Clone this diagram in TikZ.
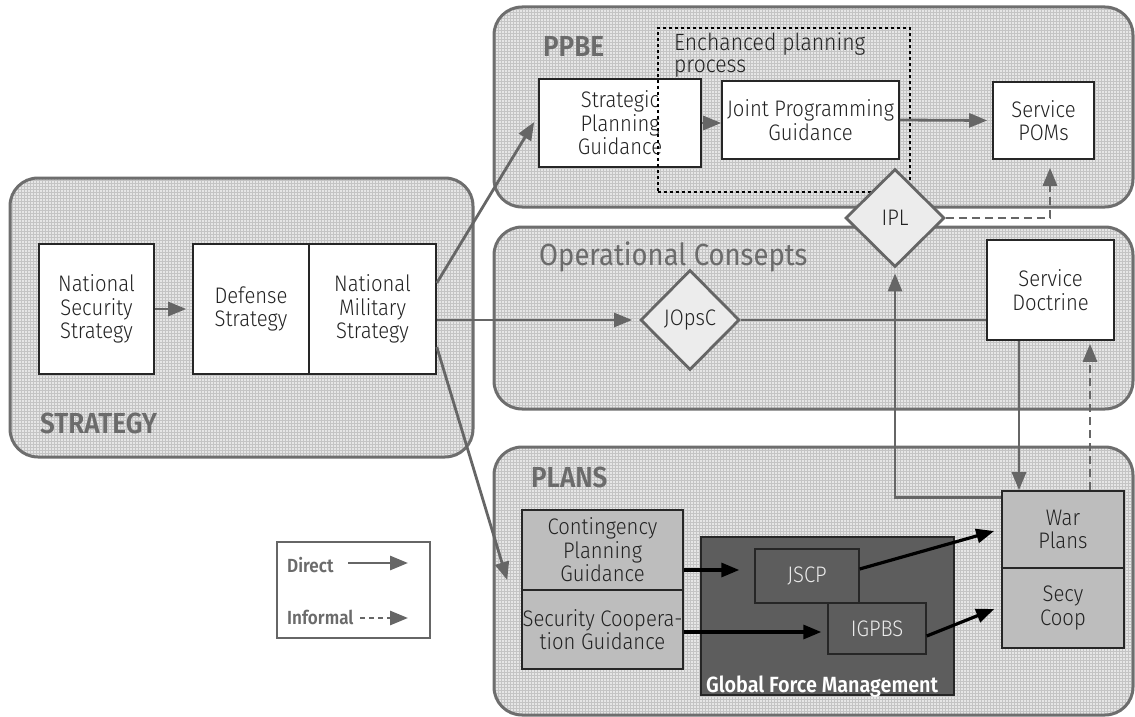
\documentclass[tikz,border=0pt]{standalone}
\usepackage{fontspec}
\setmainfont{Fira Sans}[FakeStretch=0.9, UprightFont=* Light, BoldFont=* SemiBold]
\newfontfamily\regfont{Fira Sans}[FakeStretch=0.9]
\usetikzlibrary{shapes.geometric,arrows.meta,patterns}
\definecolor{cgray}{HTML}{666666}
\definecolor{bordergray}{HTML}{6E6E6E}
\definecolor{bgfill}{HTML}{E6E6E6}
\definecolor{gridc}{HTML}{C4C4C4}
\definecolor{titlec}{HTML}{6B6B6B}
\definecolor{textc}{HTML}{222222}
\definecolor{midgray}{HTML}{BDBDBD}
\definecolor{darkbox}{HTML}{5D5D5D}
\definecolor{lightdia}{HTML}{ECECEC}
\newcommand\setfs[2]{\fontsize{#1}{#2}\selectfont}
\tikzset{
  groupbox/.style={draw=bordergray, line width=3pt, rounded corners=28pt,
    preaction={fill=bgfill}, pattern=grid, pattern color=gridc, inner sep=0pt},
  wbox/.style={draw=black!85, line width=1.6pt, fill=white, inner sep=0pt,
    align=center, text=textc, font=\setfs{22.5}{23.5}},
  gbox/.style={wbox, fill=midgray},
  dbox/.style={draw=black!85, line width=1.4pt, fill=darkbox, inner sep=0pt,
    align=center, text=white!92!black, font=\setfs{22.5}{23.5}},
  dia/.style={diamond, aspect=1, draw=cgray, line width=2.8pt, fill=lightdia,
    inner sep=0pt, text=textc, font=\setfs{22.5}{23.5}},
  gtitle/.style={anchor=base west, inner sep=0pt, text=titlec, font=\setfs{29}{31}\bfseries},
  conn/.style={draw=cgray, line width=2.8pt},
  arr/.style={conn, -{Triangle[length=18pt,width=14pt]}},
  darr/.style={arr, dash pattern=on 8pt off 5pt},
  barr/.style={draw=black, line width=3.2pt, -{Triangle[length=18pt,width=14pt]}},
}
\begin{document}
\begin{tikzpicture}[x=1pt,y=-1pt]
\useasboundingbox (0,0) rectangle (1135,717);
% group boxes
\node[groupbox, minimum width=639pt, minimum height=200pt] (ppbe) at (813.5,107) {};
\node[groupbox, minimum width=639pt, minimum height=182pt] (ops) at (813.5,318) {};
\node[groupbox, minimum width=639pt, minimum height=268pt] (plans) at (813.5,581) {};
\node[groupbox, minimum width=463pt, minimum height=279pt] (strat) at (241.5,317.5) {};
% titles
\node[gtitle] (tppbe) at (543,57) {PPBE};
\node[gtitle] (tstrat) at (40,433) {STRATEGY};
\node[gtitle] (tplans) at (531,487) {PLANS};
\node[gtitle, font=\setfs{30.5}{33}\regfont, text=titlec] (tops) at (539,265) {Operational Consepts};
% strategy boxes
\node[wbox, minimum width=115pt, minimum height=130pt] (nss) at (96.5,309) {National\\Security\\Strategy};
\node[wbox, minimum width=116pt, minimum height=130pt] (ds) at (251,309) {Defense\\Strategy};
\node[wbox, minimum width=127pt, minimum height=130pt] (nms) at (372.5,309) {National\\Military\\Strategy};
% PPBE boxes
\node[wbox, minimum width=162pt, minimum height=88pt] (spg) at (620,123) {Strategic\\Planning\\Guidance};
\node[wbox, minimum width=177pt, minimum height=78pt] (jpg) at (810.5,120) {Joint Programming\\Guidance};
\node[wbox, minimum width=101pt, minimum height=77pt] (pom) at (1043.5,120.5) {Service\\POMs};
% dotted enhanced planning process
\node[draw=black, line width=2.6pt, dash pattern=on 2.6pt off 3.4pt,
  minimum width=252pt, minimum height=164pt, inner sep=0pt] (epp) at (784,110) {};
\node[anchor=north west, align=left, inner sep=0pt, text=textc, font=\setfs{23.5}{22}] (tepp) at (674,33) {Enchanced planning\\process};
% operational
\node[wbox, minimum width=127pt, minimum height=100pt] (sd) at (1050.5,290) {Service\\Doctrine};
\node[dia, minimum width=99pt, minimum height=100pt] (jopsc) at (690,320) {JOpsC};
\node[dia, minimum width=99pt, minimum height=98pt] (ipl) at (895,218) {IPL};
% plans
\node[gbox, minimum width=161pt, minimum height=80pt] (cpg) at (602.5,550) {Contingency\\Planning\\Guidance};
\node[gbox, minimum width=161pt, minimum height=79pt] (scg) at (602.5,629.5) {Security Coopera-\\tion Guidance};
\node[dbox, minimum width=253pt, minimum height=158pt] (gfm) at (827.5,616) {};
\node[anchor=base west, inner sep=0pt, text=white, font=\setfs{22}{23}\bfseries] (tgfm) at (706,692) {Global Force Management};
\node[dbox, minimum width=104pt, minimum height=54pt] (jscp) at (807,576) {JSCP};
\node[dbox, minimum width=98pt, minimum height=51pt] (igpbs) at (877,628.5) {IGPBS};
\node[gbox, minimum width=122pt, minimum height=77pt] (war) at (1063,529.5) {War\\Plans};
\node[gbox, minimum width=122pt, minimum height=80pt] (secy) at (1063,608) {Secy\\Coop};
% legend
\node[draw=cgray, line width=2.8pt, fill=white, minimum width=153pt, minimum height=96pt, inner sep=0pt] (leg) at (353.5,590) {};
\node[anchor=base west, inner sep=0pt, text=titlec, font=\setfs{19}{20}\bfseries] (ldir) at (287,572) {Direct};
\node[anchor=base west, inner sep=0pt, text=titlec, font=\setfs{19}{20}\bfseries] (linf) at (287,624) {Informal};
\coordinate (ld1) at (348,563);
\coordinate (ld2) at (408,563);
\coordinate (li1) at (360,618);
\coordinate (li2) at (408,618);
% connectors
\draw[arr, shorten >=6pt] (nss.east) -- (ds.west);
\draw[arr] ([yshift=26pt]nms.east) -- ([xshift=-4pt,yshift=1pt]spg.west);
\draw[arr, shorten >=7pt] (nms.east |- jopsc.west) -- (jopsc.west);
\draw[arr] ([yshift=-38pt]nms.east) -- ([xshift=-14pt,yshift=-30pt]cpg.west);
\draw[arr] (spg.east) -- (spg.east -| jpg.west);
\draw[arr, shorten >=5pt] (jpg.east) -- (pom.west);
\draw[conn] (jopsc.east) -- (jopsc.east -| sd.west);
\draw[arr, shorten >=5pt] ([yshift=-7pt]war.north west) -| (ipl.south);
\draw[arr] ([xshift=-31.5pt]sd.south) -- ([xshift=-31.5pt]sd.south |- war.north);
\draw[darr, shorten >=3pt] ([xshift=27pt]war.north) -- ([xshift=27pt]war.north |- sd.south);
\draw[darr, shorten >=8pt] (ipl.east) -| ([xshift=6.5pt]pom.south);
\draw[barr, shorten >=15pt] ([yshift=-20pt]cpg.east) -- ([yshift=-20pt]cpg.east -| jscp.west);
\draw[barr, shorten >=6pt] ([yshift=-2.5pt]scg.east) -- ([yshift=-2.5pt]scg.east -| igpbs.west);
\draw[barr] ([yshift=7pt]jscp.east) -- ([xshift=-7pt,yshift=-1.5pt]war.west);
\draw[barr] ([yshift=-7.5pt]igpbs.east) -- ([xshift=-7pt,yshift=-1pt]secy.west);
\draw[arr] (ld1) -- (ld2);
\draw[darr, dash pattern=on 5pt off 4pt] (li1) -- (li2);
\end{tikzpicture}
\end{document}
